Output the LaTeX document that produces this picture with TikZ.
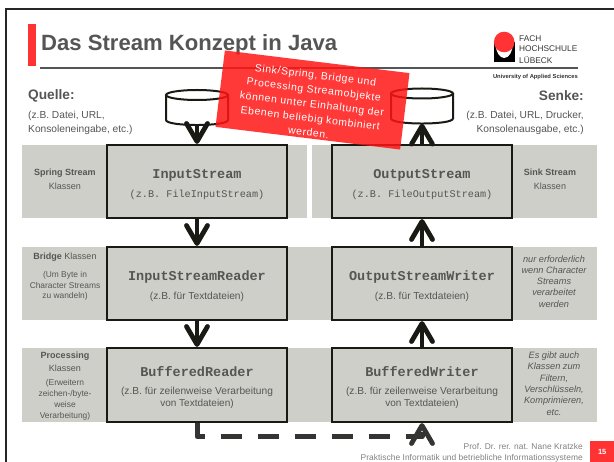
\documentclass[tikz,border=0pt]{standalone}
\usepackage{fontspec}
\setmainfont{Liberation Sans}
\setmonofont{Liberation Mono}
\newfontfamily\notefont[LetterSpace=6]{Liberation Sans}
\usetikzlibrary{arrows.meta}
\definecolor{fhred}{HTML}{FF3333}
\definecolor{notered}{HTML}{FF1515}
\definecolor{bandgray}{HTML}{CFCFC9}
\definecolor{textgray}{HTML}{555555}
\definecolor{inkblack}{HTML}{1A1A14}
\newcommand{\fsz}[2]{\fontsize{#1}{#2}\selectfont}
\tikzset{
  streambox/.style={draw=inkblack,line width=2.2pt,fill=bandgray,minimum width=180pt,minimum height=73pt,text=textgray,align=center,inner sep=0pt},
  band/.style={fill=bandgray,draw=none},
  sidelabel/.style={text=textgray,align=center,inner sep=0pt},
  store/.style={minimum width=62pt,minimum height=35pt,inner sep=0pt},
  pics/drum/.style={code={
    \filldraw[draw=inkblack,line width=2pt,fill=white] (-31,-12.5) -- (-31,12.5) .. controls (-31,19.2) and (31,19.2) .. (31,12.5) -- (31,-12.5);
    \filldraw[draw=inkblack,line width=2pt,fill=white] (0,-12.5) ellipse (31 and 5);
  }},
  flow/.style={draw=inkblack,line width=4.8pt,-{Straight Barb[length=18pt,width=21pt,line width=4.8pt,round]}}
}
\newcommand{\cname}[1]{{\ttfamily\bfseries\fsz{13.5}{16}\rule{0pt}{15pt}#1}}
\newcommand{\csub}[1]{{\ttfamily\fsz{10.2}{13}#1}}
\begin{document}
\begin{tikzpicture}[x=1pt,y=-1pt]
  \useasboundingbox (0,0) rectangle (614,462);
  % Frame
  \draw[line width=2pt,black!85] (6,9) rectangle (640,490);

  % Title
  \fill[fhred] (28,24) rectangle (36,66);
  \node[anchor=west,inner sep=0pt,text=textgray,font=\bfseries\fsz{22.1}{24}] (title) at (41,45) {Das Stream Konzept in Java};
  \draw[line width=2pt,textgray] (40,68) -- (578,68);

  % Logo
  \fill[black] (494,42) rectangle (514.5,62);
  \fill[white] (504.2,44) ellipse (8.5 and 14);
  \fill[fhred] (504.2,42) circle (10.3);
  \node[anchor=west,inner sep=0pt,text=black!80,font=\fsz{8.3}{9}] (fach) at (519,38.5) {FACH};
  \node[anchor=west,inner sep=0pt,text=black!80,font=\fsz{8.3}{9}] (hochschule) at (519,49) {HOCHSCHULE};
  \node[anchor=west,inner sep=0pt,text=black!80,font=\fsz{8.3}{9}] (luebeck) at (519,60) {LÜBECK};
  \node[anchor=east,inner sep=0pt,text=black!80,font=\bfseries\fsz{5.8}{6}] (university) at (578,77) {University of Applied Sciences};

  % Quelle und Senke
  \node[anchor=west,inner sep=0pt,text=textgray,font=\bfseries\fsz{13.7}{15}] (quelle) at (28,96) {Quelle:};
  \node[anchor=north west,inner sep=0pt,align=left,text=textgray,font=\fsz{10.2}{14}] (quelletext) at (28,111) {(z.B. Datei, URL,\\Konsoleneingabe, etc.)};
  \node[anchor=east,inner sep=0pt,text=textgray,font=\bfseries\fsz{13.7}{15}] (senke) at (584,96) {Senke:};
  \node[anchor=north east,inner sep=0pt,align=right,text=textgray,font=\fsz{10.2}{14}] (senketext) at (584,111) {(z.B. Datei, URL, Drucker,\\Konsolenausgabe, etc.)};

  % Bands
  \fill[band] (22,145) rectangle (307,218);
  \fill[band] (312,145) rectangle (597,218);
  \fill[band] (22,247) rectangle (597,320);
  \fill[band] (22,348) rectangle (597,422);

  % Stores
  \node[store] (source) at (197,107.5) {};
  \pic at (source) {drum};
  \node[store] (sink) at (422,106) {};
  \pic at (sink) {drum};

  % Streams
  \node[streambox] (instream) at (197,181.5) {\cname{InputStream}\\[7pt]\csub{(z.B. FileInputStream)}};
  \node[streambox] (outstream) at (422,181.5) {\cname{OutputStream}\\[7pt]\csub{(z.B. FileOutputStream)}};
  \node[streambox] (inreader) at (197,283.5) {\cname{InputStreamReader}\\[7pt]\fsz{10.2}{13}(z.B. für Textdateien)};
  \node[streambox] (outwriter) at (422,283.5) {\cname{OutputStreamWriter}\\[7pt]\fsz{10.2}{13}(z.B. für Textdateien)};
  \node[streambox,minimum height=74pt] (bufreader) at (197,385) {\cname{BufferedReader}\\[6pt]\fsz{10.2}{13}(z.B. für zeilenweise Verarbeitung\\von Textdateien)};
  \node[streambox,minimum height=74pt] (bufwriter) at (422,385) {\cname{BufferedWriter}\\[6pt]\fsz{10.2}{13}(z.B. für zeilenweise Verarbeitung\\von Textdateien)};

  % Left labels
  \node[sidelabel,font=\fsz{9}{14}] (springlabel) at (65,179) {\textbf{Spring Stream}\\Klassen};
  \node[sidelabel,font=\fsz{9}{12}] (bridgelabel) at (65,257) {\textbf{Bridge} Klassen};
  \node[sidelabel,font=\fsz{8.4}{10.7}] (bridgenote) at (65,286) {(Um Byte in\\Character Streams\\zu wandeln)};
  \node[sidelabel,font=\fsz{9}{12.5}] (proclabel) at (65,362) {\textbf{Processing}\\Klassen};
  \node[sidelabel,font=\fsz{8.4}{11}] (procnote) at (65,399.5) {(Erweitern\\zeichen-/byte-\\weise\\Verarbeitung)};

  % Right labels
  \node[sidelabel,font=\fsz{9}{14}] (sinklabel) at (550,179) {\textbf{Sink Stream}\\Klassen};
  \node[sidelabel,font=\itshape\fsz{9.2}{11.2}] (writernote) at (554,281.5) {nur erforderlich\\wenn Character\\Streams\\verarbeitet\\werden};
  \node[sidelabel,font=\itshape\fsz{9.2}{11.4}] (extranote) at (554,383.5) {Es gibt auch\\Klassen zum\\Filtern,\\Verschlüsseln,\\Komprimieren,\\etc.};

  % Arrows
  \draw[flow] (source.south) -- (instream.north);
  \draw[flow] (instream.south) -- (inreader.north);
  \draw[flow] (inreader.south) -- (bufreader.north);
  \draw[flow] (outstream.north) -- (sink.south);
  \draw[flow] (outwriter.north) -- (outstream.south);
  \draw[flow] (bufwriter.north) -- (outwriter.south);

  % Dashed link
  \coordinate (turn) at (422,436.5);
  \draw[flow,dash pattern=on 21pt off 16pt,draw=black!75!bandgray,line width=5pt,line join=round] (bufreader.south) |- (turn) -- (bufwriter.south);

  % Footer
  \node[anchor=east,inner sep=0pt,text=gray,font=\fsz{8.4}{10}] (prof) at (583,446) {\addfontfeature{LetterSpace=0.5}Prof. Dr. rer. nat. Nane Kratzke};
  \node[anchor=east,inner sep=0pt,text=gray,font=\fsz{8.4}{10}] (course) at (583,458) {\addfontfeature{LetterSpace=0.5}Praktische Informatik und betriebliche Informationssysteme};
  \node[anchor=north west,fill=fhred,minimum width=24pt,minimum height=21pt,inner sep=0pt,text=white,font=\bfseries\fsz{7.5}{8}] (pagenum) at (590,441) {15};

  % Note
  \node[rotate=-7,fill=notered,fill opacity=0.85,text opacity=1,text=white,minimum width=186pt,minimum height=77pt,align=center,inner sep=0pt,font=\notefont\fsz{10.4}{14.5}] (note) at (312.5,100) {\rule{0pt}{15pt}Sink/Spring, Bridge und\\Processing Streamobjekte\\können unter Einhaltung der\\Ebenen beliebig kombiniert\\werden.};
\end{tikzpicture}
\end{document}
